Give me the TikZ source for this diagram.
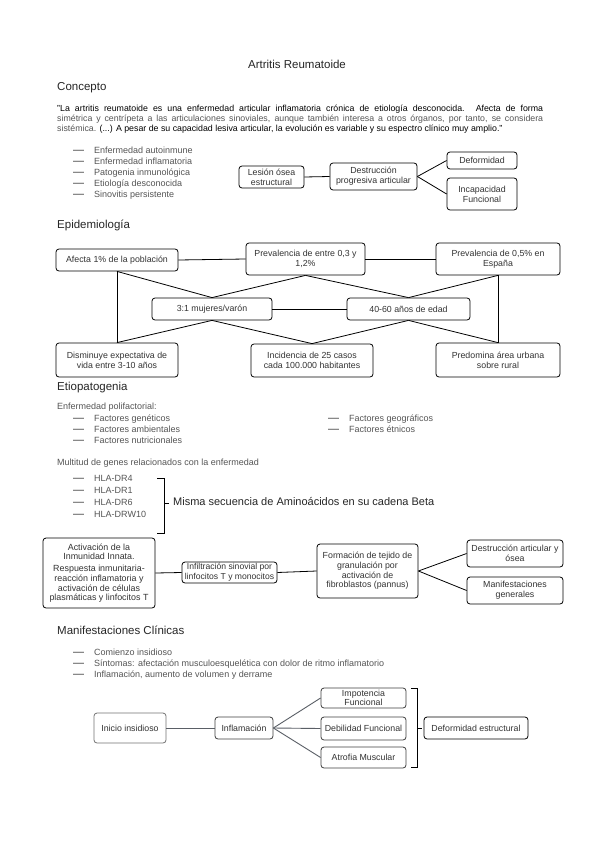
\documentclass[tikz,border=0pt]{standalone}
\usepackage{fontspec}
\setmainfont{Liberation Sans}
\newcommand\fsm{\fontsize{8.8}{10}\selectfont}
\newcommand\flist{\fontsize{9}{10}\selectfont}
\newcommand\fhead{\fontsize{11.5}{13}\selectfont}
\newcommand\fdash{\fontsize{11}{12}\selectfont}
\definecolor{txt}{HTML}{333333}
\definecolor{ltxt}{HTML}{555555}
\definecolor{mline}{HTML}{5A5F66}
\begin{document}
\begin{tikzpicture}[x=1pt,y=-1pt,
  box/.style={draw=black, rounded corners=3pt, line width=0.8pt, align=center, inner sep=0.5pt, font=\fsm, text=txt},
  mbox/.style={box, draw=black!75},
  tx/.style={inner sep=0pt, anchor=mid west, font=\flist, text=ltxt},
  dsh/.style={inner sep=0pt, anchor=mid west, font=\fdash, text=txt},
  head/.style={inner sep=0pt, anchor=mid west, font=\fhead, text=black!85},
  conn/.style={draw=black, line width=0.8pt},
  mconn/.style={draw=mline, line width=0.9pt}]
\useasboundingbox (0,0) rectangle (599,848);
\fill[white] (0,0) rectangle (599,848);

% Title
\node[inner sep=0pt, font=\fhead, text=black!85] (title) at (297,64) {Artritis Reumatoide};

% Concepto
\node[head] (h1) at (57,88) {Concepto};
\node[anchor=north west, text width=486pt, align=justify, inner sep=0pt, font=\fsm, text=black] (quote) at (57,105)
 {\fontsize{8.8}{11}\selectfont "La artritis reumatoide es una enfermedad articular inflamatoria crónica de etiología desconocida. Afecta de forma\linebreak
 {\color{ltxt}simétrica y centrípeta a las articulaciones sinoviales, aunque también interesa a otros órganos, por tanto, se considera\linebreak sistémica.} (...) A pesar de su capacidad lesiva articular, la evolución es variable y su espectro clínico muy amplio."};

\foreach \t [count=\i from 0] in {Enfermedad autoinmune, Enfermedad inflamatoria, Patogenia inmunológica, Etiología desconocida, Sinovitis persistente}{
  \node[dsh] (cd\i) at (73,151+10.9*\i) {—};
  \node[tx] (ct\i) at (94,151+10.9*\i) {\t};
}

\node[box, minimum width=65pt, minimum height=22pt] (lesion) at (271.5,177) {Lesión ósea\\estructural};
\node[box, minimum width=87pt, minimum height=27pt] (destr) at (373.5,176.5) {Destrucción\\progresiva articular};
\node[box, minimum width=70pt, minimum height=17pt] (deform) at (482,160.5) {Deformidad};
\node[box, minimum width=70pt, minimum height=32pt] (incap) at (482,194) {Incapacidad\\Funcional};
\draw[conn] (lesion.east) -- (destr.west);
\draw[conn] (destr.east) -- (deform.west);
\draw[conn] (destr.east) -- (incap.west);

% Epidemiologia
\node[head] (h2) at (57,226) {Epidemiología};
\node[box, minimum width=122pt, minimum height=22pt] (afecta) at (117,260) {Afecta 1\% de la población};
\node[box, minimum width=119pt, minimum height=32pt] (prev1) at (305.5,259) {Prevalencia de entre 0,3 y\\1,2\%};
\node[box, minimum width=124pt, minimum height=32pt] (prev2) at (498,259) {Prevalencia de 0,5\% en\\España};
\node[box, minimum width=120pt, minimum height=22pt] (m31) at (212,309) {3:1 mujeres/varón};
\node[box, minimum width=123pt, minimum height=22pt] (edad) at (408.5,309) {40-60 años de edad};
\node[box, minimum width=122pt, minimum height=34pt] (dism) at (117,360) {Disminuye expectativa de\\vida entre 3-10 años};
\node[box, minimum width=122pt, minimum height=33pt] (inc) at (312,360.5) {Incidencia de 25 casos\\cada 100.000 habitantes};
\node[box, minimum width=124pt, minimum height=34pt] (pred) at (498,360) {Predomina área urbana\\sobre rural};
\draw[conn] (afecta.east) -- (prev1.west);
\draw[conn] (prev1.east) -- (prev2.west);
\draw[conn] (afecta.south) -- (dism.north);
\draw[conn] (afecta.south) -- (m31.north);
\draw[conn] (prev1.south) -- (m31.north);
\draw[conn] (prev1.south) -- (edad.north);
\draw[conn] (prev2.south) -- (edad.north);
\draw[conn] (prev2.south) -- (pred.north);
\draw[conn] (m31.east) -- (edad.west);
\draw[conn] (m31.south) -- (dism.north);
\draw[conn] (m31.south) -- (inc.north);
\draw[conn] (edad.south) -- (inc.north);
\draw[conn] (edad.south) -- (pred.north);

% Etiopatogenia
\node[head] (h3) at (57,388) {Etiopatogenia};
\node[tx] (poli) at (57,407) {Enfermedad polifactorial:};
\foreach \t [count=\i from 0] in {Factores genéticos, Factores ambientales, Factores nutricionales}{
  \node[dsh] (ed\i) at (73,419+11*\i) {—};
  \node[tx] (et\i) at (94,419+11*\i) {\t};
}
\foreach \t [count=\i from 0] in {Factores geográficos, Factores étnicos}{
  \node[dsh] (fd\i) at (328,419+11*\i) {—};
  \node[tx] (ft\i) at (349,419+11*\i) {\t};
}
\node[tx] (multi) at (57,463) {Multitud de genes relacionados con la enfermedad};
\foreach \t [count=\i from 0] in {HLA-DR4, HLA-DR1, HLA-DR6, HLA-DRW10}{
  \node[dsh] (hd\i) at (73,479+12*\i) {—};
  \node[tx] (ht\i) at (94,479+12*\i) {\t};
}
\coordinate (b1a) at (157,478);
\coordinate (b1b) at (164,478);
\coordinate (b1c) at (164,533);
\coordinate (b1d) at (157,533);
\coordinate (b1m) at (164,503);
\coordinate (b1e) at (169,503);
\node[inner sep=0pt, anchor=mid west, font=\fontsize{11}{13}\selectfont, text=black!85] (misma) at (173,503) {Misma secuencia de Aminoácidos en su cadena Beta};
\draw[conn] (b1a) -- (b1b) -- (b1c) -- (b1d);
\draw[conn] (b1m) -- (b1e);

\node[box, minimum width=112pt, minimum height=70pt, font=\fontsize{8.9}{9.6}\selectfont] (act) at (99,573) {Activación de la\\Inmunidad Innata.\\[2.5pt]Respuesta inmunitaria-\\reacción inflamatoria y\\activación de células\\plasmáticas y linfocitos T};
\node[box, minimum width=95pt, minimum height=21pt, font=\fontsize{8.6}{9.6}\selectfont] (infil) at (229.5,572.5) {Infiltración sinovial por\\linfocitos T y monocitos};
\node[box, minimum width=101pt, minimum height=54pt, font=\fontsize{8.8}{9.7}\selectfont] (form) at (367.5,571) {Formación de tejido de\\granulación por\\activación de\\fibroblastos (pannus)};
\node[box, minimum width=96pt, minimum height=27pt] (dest2) at (515,553.5) {Destrucción articular y\\ósea};
\node[box, minimum width=96pt, minimum height=27pt] (manif) at (515,590.5) {Manifestaciones\\generales};
\draw[conn] (act.east) -- (infil.west);
\draw[conn] (infil.east) -- (form.west);
\draw[conn] (form.east) -- (dest2.west);
\draw[conn] (form.east) -- (manif.west);

% Manifestaciones
\node[head] (h4) at (57,632) {Manifestaciones Clínicas};
\foreach \t [count=\i from 0] in {Comienzo insidioso, {Síntomas: afectación musculoesquelética con dolor de ritmo inflamatorio}, {Inflamación, aumento de volumen y derrame}}{
  \node[dsh] (md\i) at (73,653+11*\i) {—};
  \node[tx] (mt\i) at (94,653+11*\i) {\t};
}
\node[mbox, draw=black!55, minimum width=72pt, minimum height=30pt] (inicio) at (130,728) {Inicio insidioso};
\node[mbox, minimum width=58pt, minimum height=22pt] (infl) at (244,728) {Inflamación};
\node[mbox, minimum width=85pt, minimum height=20pt, font=\fontsize{8.8}{9}\selectfont] (impo) at (363.5,698) {Impotencia\\Funcional};
\node[mbox, minimum width=85pt, minimum height=23pt] (debil) at (363.5,728.5) {Debilidad Funcional};
\node[mbox, minimum width=85pt, minimum height=21pt] (atrof) at (363.5,757.5) {Atrofia Muscular};
\node[box, minimum width=104pt, minimum height=22pt] (defest) at (476,728) {Deformidad estructural};
\draw[mconn] (inicio.east) -- (infl.west);
\draw[mconn] (infl.east) -- (impo.west);
\draw[mconn] (infl.east) -- (debil.west);
\draw[mconn] (infl.east) -- (atrof.west);
\coordinate (b2a) at (411,688);
\coordinate (b2b) at (417,688);
\coordinate (b2c) at (417,767);
\coordinate (b2d) at (411,767);
\coordinate (b2m) at (417,728);
\coordinate (b2e) at (422,728);
\draw[conn] (b2a) -- (b2b) -- (b2c) -- (b2d);
\draw[conn] (b2m) -- (b2e);
\end{tikzpicture}
\end{document}
